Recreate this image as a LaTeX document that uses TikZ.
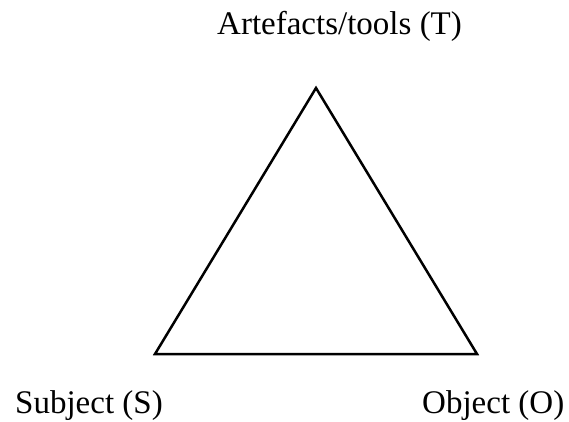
\documentclass[tikz,border=0pt]{standalone}
\usepackage{fontspec}
\setmainfont{Liberation Serif}
\usetikzlibrary{positioning}

\begin{document}
\begin{tikzpicture}[x=1pt, y=-1pt,
    edge/.style={draw, line width=2.5pt},
    vname/.style={font=\fontsize{33}{40}\selectfont, inner sep=0pt, anchor=base west}
]
    \useasboundingbox (0,0) rectangle (569,422);

    % corners of the triangle
    \coordinate (t) at (316,88);
    \coordinate (s) at (155,354);
    \coordinate (o) at (477,354);

    \draw[edge] (t) -- (s) -- (o) -- cycle;

    % labels
    \node[vname] (tools) at (217,35) {Artefacts/tools (T)};
    \node[vname] (subject) at (15,413) {Subject (S)};
    \node[vname] (object) at (422,413) {Object (O)};
\end{tikzpicture}
\end{document}
